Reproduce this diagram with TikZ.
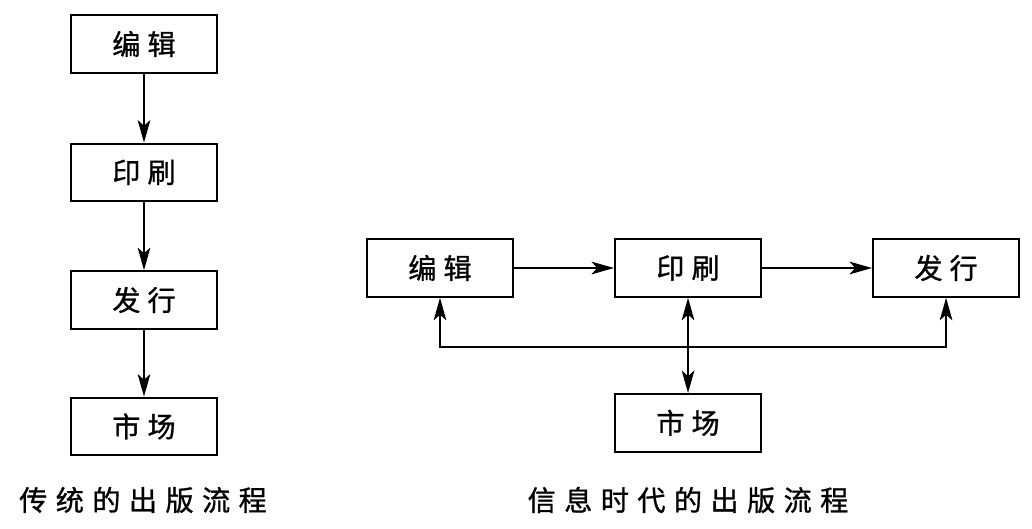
\documentclass[tikz,border=0pt]{standalone}
\usepackage{fontspec}
\usetikzlibrary{arrows.meta,positioning}
\newfontfamily\cjk[LetterSpace=25, FakeBold=1]{Noto Sans CJK SC}

\begin{document}
\begin{tikzpicture}[x=0.025cm, y=-0.025cm, line width=1.4pt,
  >={Stealth[length=16pt, width=9pt, inset=4pt]},
  box/.style={draw, minimum width=3.65cm, minimum height=1.44cm,
    font=\cjk\fontsize{20}{24}\selectfont},
  caption/.style={font=\cjk\fontsize{20}{24}\selectfont\addfontfeature{LetterSpace=30}}]
  \path[use as bounding box] (0,0) rectangle (1032,528);

  % traditional
  \node[box] (edit1) at (144,44) {编辑};
  \node[box, below=1.72cm of edit1] (print1) {印刷};
  \node[box, below=1.7cm of print1] (issue1) {发行};
  \node[box, below=1.67cm of issue1] (market1) {市场};
  \draw[->] (edit1) -- (print1);
  \draw[->] (print1) -- (issue1);
  \draw[->] (issue1) -- (market1);
  \node[caption] (cap1) at (143,500) {传统的出版流程};

  % information age
  \node[box] (edit2) at (440,268) {编辑};
  \node[box, right=2.5cm of edit2] (print2) {印刷};
  \node[box, right=2.75cm of print2] (issue2) {发行};
  \node[box, below=2.38cm of print2] (market2) {市场};
  \draw[->] (edit2) -- (print2);
  \draw[->] (print2) -- (issue2);
  \draw[<->] (edit2.south) -- ++(0,49) -| (issue2.south);
  \draw[<->] (print2) -- (market2);
  \node[caption] (cap2) at (688,500) {信息时代的出版流程};
\end{tikzpicture}
\end{document}
